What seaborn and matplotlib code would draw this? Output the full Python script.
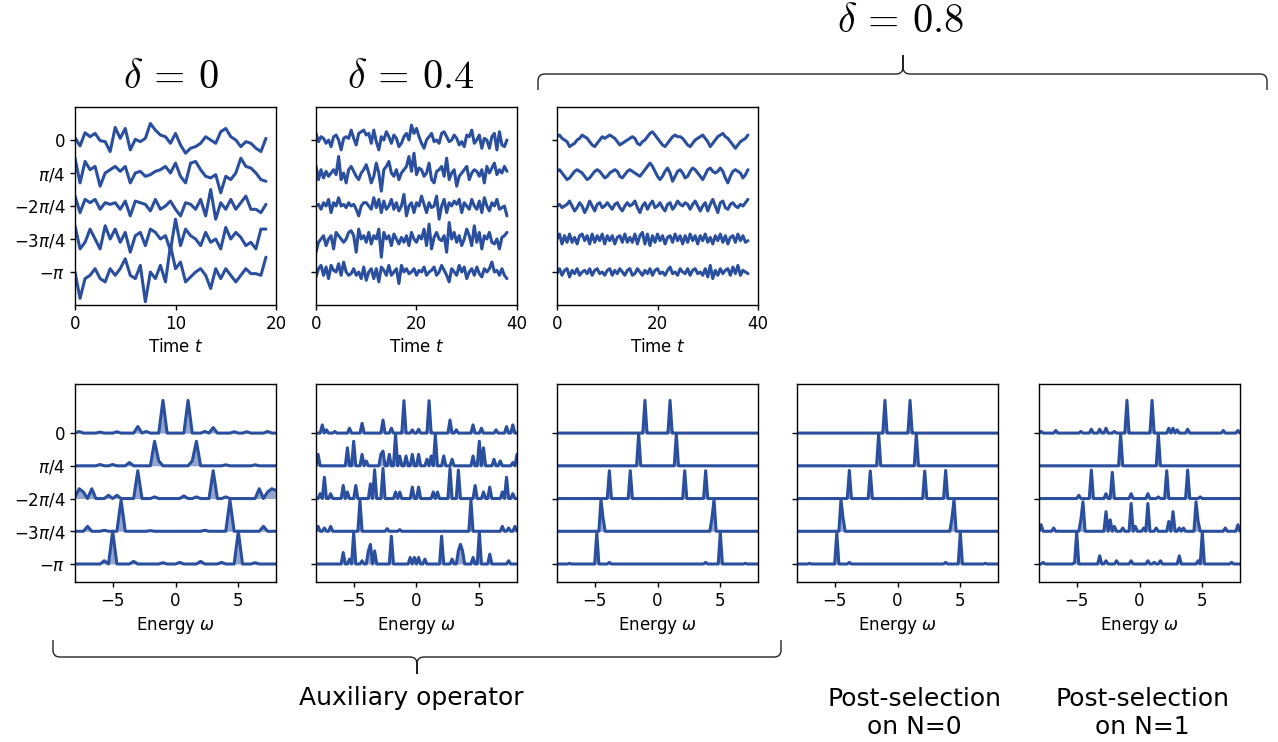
import numpy as np
import matplotlib
matplotlib.use("Agg")
import matplotlib.pyplot as plt
from matplotlib.path import Path
from matplotlib.patches import PathPatch
import seaborn as sns

sns.set_style("ticks")
plt.rcParams['font.family'] = ['DejaVu Sans']
plt.rcParams['mathtext.fontset'] = 'dejavusans'
plt.rcParams['text.color'] = 'black'
plt.rcParams['axes.labelcolor'] = 'black'

LINE = '#2a4f9f'

# ---- time traces (phase vs time), one list per y-offset row ----
T_END = [19, 38, 38]

TIME_D0 = [
    [0.07, -0.18, 0.22, 0.10, 0.20, -0.02, -0.05, -0.35, 0.38, 0.05, 0.35, -0.30, 0.02, -0.05, 0.05, 0.50,
     0.30, 0.15, 0.10, -0.10, 0.20, -0.15, -0.40, -0.25, -0.20, -0.10, 0.10, 0.00, -0.10, 0.25, 0.35, 0.10,
     0.00, -0.20, -0.05, -0.10, -0.25, -0.35, 0.05],
    [0.45, -0.30, 0.35, 0.10, 0.20, -0.40, 0.00, 0.10, 0.20, 0.05, 0.20, -0.30, 0.00, 0.05, -0.10, -0.05,
     0.05, 0.10, 0.20, 0.00, 0.30, -0.10, -0.30, 0.30, 0.35, 0.10, -0.10, -0.15, -0.05, -0.60, -0.10, -0.20,
     0.00, 0.45, 0.20, 0.15, 0.00, -0.20, -0.25],
    [0.30, -0.20, 0.20, 0.10, 0.20, -0.10, 0.10, 0.05, 0.10, -0.10, 0.15, -0.30, 0.15, 0.10, 0.05, -0.15,
     0.20, -0.10, 0.00, 0.15, -0.10, -0.30, 0.10, 0.05, -0.10, 0.20, -0.30, 0.50, -0.40, 0.10, -0.10, 0.20,
     -0.10, 0.10, 0.30, -0.10, -0.10, -0.20, 0.05],
    [0.40, -0.30, -0.10, 0.30, 0.00, -0.30, 0.40, 0.00, 0.30, -0.10, 0.20, -0.40, 0.10, 0.20, -0.20, 0.30,
     0.20, 0.00, 0.10, -0.35, 0.60, -0.20, 0.30, 0.10, 0.00, -0.20, 0.20, -0.10, 0.00, -0.30, 0.35, 0.00,
     0.20, 0.05, -0.20, -0.10, -0.30, 0.30, 0.30],
    [0.00, -0.80, -0.20, -0.10, 0.10, -0.20, -0.30, 0.10, -0.10, 0.10, 0.40, -0.10, -0.20, 0.20, -0.90, 0.00,
     -0.20, 0.20, -0.30, 0.80, 0.10, 0.30, -0.30, -0.15, 0.00, 0.10, -0.10, -0.50, 0.10, -0.20, 0.10, -0.10,
     -0.30, -0.10, 0.10, -0.05, -0.05, -0.10, 0.45],
]

TIME_D04 = [
    [0.20, -0.05, 0.10, 0.05, -0.10, 0.00, -0.20, 0.10, 0.15, 0.00, -0.30, 0.05, 0.10, 0.05, 0.30, 0.05,
     -0.15, 0.20, 0.25, 0.30, 0.15, 0.20, -0.10, 0.30, -0.05, -0.30, 0.10, 0.00, 0.25, 0.10, -0.10, 0.15,
     0.05, -0.20, -0.10, 0.10, 0.20, 0.00, 0.45, 0.20, 0.35, 0.10, -0.10, -0.25, 0.00, 0.10, 0.20, -0.05,
     0.00, -0.10, 0.20, 0.25, 0.10, -0.05, 0.00, 0.15, 0.05, -0.15, -0.05, -0.20, 0.15, 0.10, 0.30, -0.10,
     0.00, 0.15, -0.25, 0.05, 0.00, -0.25, 0.10, 0.20, -0.30, 0.25, -0.15, -0.20, 0.00],
    [0.20, -0.20, 0.10, -0.15, 0.05, -0.10, 0.00, 0.10, -0.05, 0.50, -0.20, 0.00, -0.30, 0.10, 0.20, 0.05,
     -0.10, -0.20, 0.00, 0.10, 0.25, 0.00, -0.30, -0.10, 0.30, 0.00, -0.55, 0.10, 0.20, 0.35, 0.00, -0.10,
     0.10, -0.20, 0.00, 0.10, 0.20, 0.50, 0.05, 0.60, -0.05, 0.15, 0.10, -0.10, 0.00, 0.30, -0.20, -0.30,
     0.05, 0.10, 0.20, -0.10, 0.45, -0.20, 0.00, 0.10, -0.40, -0.10, 0.00, 0.10, 0.20, -0.20, 0.00, 0.10,
     0.05, -0.10, 0.10, -0.30, 0.20, 0.00, 0.15, 0.30, -0.05, 0.10, 0.00, 0.20, 0.05],
    [0.00, 0.05, -0.10, 0.10, 0.00, 0.20, -0.20, 0.10, 0.00, 0.25, 0.00, 0.05, -0.05, 0.10, 0.00, 0.05,
     -0.10, -0.30, 0.00, 0.10, 0.10, 0.00, -0.10, 0.25, -0.05, 0.20, -0.20, 0.15, -0.10, 0.00, 0.20, -0.10,
     0.10, -0.15, 0.00, 0.35, -0.30, 0.00, 0.10, -0.20, 0.10, 0.00, 0.30, 0.05, -0.20, 0.10, -0.05, 0.00,
     0.30, -0.40, 0.00, 0.20, -0.20, 0.10, 0.00, 0.15, 0.05, 0.20, -0.20, 0.10, 0.00, -0.10, 0.20, 0.00,
     -0.10, 0.15, -0.20, 0.25, 0.00, -0.15, 0.10, 0.00, 0.20, -0.10, -0.05, 0.00, -0.30],
    [-0.40, -0.10, 0.00, 0.10, -0.20, 0.00, 0.10, -0.30, 0.20, 0.10, 0.00, -0.10, 0.00, 0.20, 0.25, 0.10,
     -0.40, 0.30, 0.00, 0.10, -0.10, 0.20, -0.15, 0.10, 0.00, 0.30, -0.55, 0.20, 0.00, 0.10, -0.20, 0.15,
     0.00, -0.15, 0.05, -0.10, 0.10, -0.20, 0.20, 0.00, -0.10, 0.10, 0.00, 0.30, -0.20, 0.45, -0.30, 0.05,
     0.20, 0.00, -0.05, 0.10, -0.40, 0.50, 0.00, 0.20, -0.10, 0.10, -0.20, 0.00, 0.30, 0.10, -0.20, 0.40,
     -0.10, 0.20, -0.30, 0.10, 0.00, 0.20, -0.10, -0.15, 0.00, -0.30, 0.05, 0.10, 0.20],
    [-0.15, 0.10, 0.20, -0.10, 0.15, -0.20, 0.20, 0.05, 0.00, 0.25, -0.10, 0.30, 0.00, -0.10, -0.05, 0.10,
     -0.10, 0.00, -0.20, 0.15, -0.25, 0.00, 0.10, -0.20, 0.10, -0.30, 0.15, 0.05, -0.10, 0.20, -0.10, 0.00,
     0.10, -0.35, 0.20, 0.00, 0.10, -0.05, 0.00, 0.10, -0.10, 0.05, 0.00, 0.15, -0.10, 0.00, 0.05, 0.15,
     -0.10, 0.00, 0.20, 0.05, -0.10, -0.30, 0.10, 0.00, -0.10, 0.20, 0.00, 0.15, -0.20, 0.00, 0.10, -0.10,
     0.15, -0.05, -0.15, 0.10, 0.00, 0.10, 0.30, 0.00, 0.05, -0.10, 0.10, -0.10, -0.20],
]

TIME_D08 = [
    [0.10, 0.15, 0.05, 0.00, -0.05, -0.20, -0.15, -0.10, 0.00, 0.05, 0.15, 0.10, 0.05, -0.05, -0.15, -0.20,
     -0.10, 0.00, 0.10, 0.05, 0.10, 0.15, 0.10, 0.05, -0.05, -0.15, -0.10, -0.05, 0.00, 0.05, 0.10, 0.05,
     -0.10, -0.15, -0.05, 0.00, 0.10, 0.20, 0.25, 0.15, 0.05, -0.05, -0.15, -0.20, -0.10, 0.00, 0.10, 0.15,
     0.10, 0.10, 0.05, -0.05, -0.15, -0.20, -0.10, 0.00, 0.05, 0.10, 0.15, 0.05, -0.05, -0.20, -0.10, 0.00,
     0.10, 0.15, 0.20, 0.10, 0.05, -0.05, -0.15, -0.25, -0.15, -0.05, 0.00, 0.05, 0.15],
    [0.05, 0.10, 0.00, -0.10, -0.20, -0.15, -0.05, 0.05, 0.10, 0.05, 0.00, -0.10, -0.20, -0.15, -0.05, 0.05,
     0.10, 0.05, -0.05, -0.15, -0.10, 0.00, 0.05, 0.10, 0.05, -0.10, -0.15, -0.05, 0.05, 0.10, 0.05, 0.00,
     -0.05, -0.10, 0.00, 0.10, 0.20, 0.30, 0.20, 0.05, -0.10, -0.20, -0.10, 0.05, 0.15, 0.00, -0.25, -0.10,
     0.05, 0.10, 0.00, -0.15, -0.10, 0.05, 0.15, 0.10, 0.00, -0.10, -0.20, -0.05, 0.10, 0.15, 0.05, 0.00,
     0.05, 0.15, 0.05, -0.15, -0.30, -0.10, 0.05, 0.10, 0.05, 0.00, -0.15, -0.05, 0.10],
    [0.00, 0.05, -0.05, 0.00, 0.05, 0.15, 0.00, -0.15, -0.05, 0.10, 0.00, -0.20, -0.05, 0.15, 0.00, -0.15,
     0.05, 0.10, -0.05, 0.00, 0.10, 0.00, -0.10, 0.05, 0.10, -0.05, -0.15, 0.00, 0.10, 0.00, 0.05, 0.15,
     -0.05, -0.20, 0.00, 0.10, -0.10, 0.05, 0.15, -0.05, 0.00, 0.10, -0.05, -0.15, 0.05, 0.10, -0.10, 0.00,
     0.15, 0.05, 0.00, 0.10, 0.05, -0.10, 0.05, 0.15, 0.00, -0.15, 0.00, 0.10, -0.15, 0.05, 0.20, 0.00,
     -0.20, 0.10, 0.15, -0.05, -0.10, 0.05, 0.10, 0.00, -0.05, 0.05, 0.00, 0.10, 0.20],
    [0.00, 0.15, -0.15, 0.10, -0.10, 0.15, -0.10, 0.05, -0.15, 0.10, 0.15, -0.05, 0.10, -0.15, 0.15, -0.10,
     0.10, -0.05, 0.15, -0.15, 0.10, -0.05, 0.10, -0.15, 0.05, 0.10, -0.10, 0.15, -0.10, 0.05, -0.10, 0.15,
     -0.15, 0.10, 0.20, -0.15, 0.15, -0.20, 0.10, -0.10, 0.15, -0.05, 0.10, -0.15, 0.05, 0.10, -0.10, 0.15,
     -0.05, 0.10, -0.15, 0.10, -0.10, 0.15, -0.05, 0.10, -0.15, 0.10, -0.05, 0.15, -0.10, 0.05, -0.15, 0.10,
     -0.05, 0.15, -0.10, 0.10, -0.15, 0.05, 0.10, -0.10, 0.15, -0.05, 0.10, -0.10, -0.05],
    [-0.05, 0.10, -0.10, 0.05, 0.10, -0.15, 0.05, -0.05, 0.10, -0.10, 0.00, 0.05, -0.05, 0.10, -0.10, 0.05,
     0.10, -0.05, 0.00, -0.10, 0.05, 0.10, -0.10, 0.05, -0.05, 0.10, 0.00, -0.10, 0.05, 0.10, -0.10, -0.05,
     0.10, 0.00, -0.10, 0.05, -0.05, 0.10, -0.10, 0.05, 0.10, -0.05, 0.00, -0.10, 0.05, 0.15, -0.05, 0.00,
     -0.10, 0.10, 0.00, -0.05, 0.10, -0.10, 0.05, 0.10, -0.05, 0.00, -0.10, 0.10, -0.15, 0.20, -0.20, 0.05,
     -0.10, 0.10, -0.05, 0.05, 0.10, -0.10, 0.15, -0.05, 0.20, -0.10, 0.05, 0.00, -0.05],
]

OMEGA_STEP = [1 / 3, 1 / 6, 1 / 6, 1 / 6, 1 / 6]

SPEC_D0 = [
    [(-1.0, 1.0), (1.0, 1.0), (-3.0, 0.2), (3.0, 0.17), (-7.67, 0.05), (-6.0, 0.03), (-4.67, 0.04),
     (-2.33, 0.05), (2.33, 0.05), (4.67, 0.04), (5.67, 0.04), (7.33, 0.05)],
    [(-1.67, 0.75), (-1.33, 0.15), (1.67, 0.75), (1.33, 0.15), (-3.67, 0.1), (-6.0, 0.04), (-5.0, 0.04),
     (4.0, 0.03), (6.33, 0.03)],
    [(-3.0, 0.85), (3.0, 0.85), (-8.0, 0.05), (-7.67, 0.3), (-7.33, 0.2), (-6.67, 0.3), (-5.33, 0.1),
     (-4.67, 0.1), (-1.67, 0.05), (0.67, 0.08), (1.67, 0.05), (4.0, 0.05), (6.67, 0.3), (7.33, 0.2),
     (7.67, 0.3), (8.0, 0.25)],
    [(-4.33, 0.95), (4.33, 0.95), (-7.0, 0.15), (7.0, 0.15), (-5.67, 0.03), (-2.0, 0.02), (2.33, 0.03)],
    [(-5.0, 1.0), (5.0, 1.0), (-5.67, 0.1), (-3.33, 0.08), (-1.0, 0.04), (0.33, 0.05), (2.0, 0.08),
     (3.67, 0.05), (6.33, 0.04)],
]

SPEC_D04 = [
    [(-1.0, 0.99), (1.0, 0.99), (-7.55, 0.25), (-7.15, 0.1), (-6.5, 0.05), (-5.3, 0.15), (-4.4, 0.3),
     (-2.65, 0.4), (-2.0, 0.15), (-0.4, 0.1), (0.2, 0.12), (2.65, 0.4), (3.2, 0.1), (4.45, 0.25),
     (5.25, 0.15), (6.35, 0.1), (7.15, 0.2), (7.7, 0.25)],
    [(-1.6, 0.97), (1.55, 0.95), (-7.9, 0.35), (-5.55, 0.55), (-4.95, 0.75), (-4.4, 0.35), (-4.0, 0.15),
     (-2.9, 0.35), (-2.65, 0.45), (-2.1, 0.35), (-1.3, 0.3), (-0.8, 0.3), (-0.25, 0.35), (0.25, 0.35),
     (0.8, 0.2), (1.2, 0.3), (2.1, 0.3), (2.9, 0.2), (4.45, 0.3), (5.0, 0.75), (5.35, 0.55), (6.1, 0.2),
     (6.6, 0.15), (7.7, 0.1), (8.0, 0.35)],
    [(-3.4, 0.88), (-2.65, 0.92), (2.6, 0.92), (3.4, 0.87), (-7.7, 0.15), (-7.3, 0.65), (-6.9, 0.15),
     (-5.8, 0.4), (-5.45, 0.2), (-4.75, 0.4), (-3.7, 0.45), (-1.6, 0.2), (-1.3, 0.2), (-0.3, 0.35),
     (0.2, 0.35), (1.3, 0.2), (1.6, 0.2), (4.75, 0.4), (5.4, 0.2), (5.8, 0.35), (6.9, 0.2), (7.2, 0.65),
     (7.7, 0.15)],
    [(-4.45, 0.95), (4.37, 0.95), (-7.8, 0.15), (-7.4, 0.1), (-6.75, 0.15), (-2.4, 0.08), (-1.3, 0.05),
     (6.9, 0.15), (7.35, 0.1), (7.8, 0.15)],
    [(-4.95, 0.97), (-2.0, 0.85), (2.0, 0.85), (4.95, 0.97), (-5.9, 0.35), (-5.3, 0.15), (-4.4, 0.1),
     (-3.8, 0.4), (-3.6, 0.6), (-3.4, 0.4), (-0.5, 0.2), (-0.15, 0.2), (0.25, 0.2), (0.6, 0.15),
     (2.9, 0.15), (3.3, 0.4), (3.45, 0.6), (3.65, 0.4), (4.45, 0.2), (5.85, 0.3), (7.4, 0.1)],
]

SPEC_D08 = [
    [(-1.0, 1.0), (1.0, 1.0)],
    [(-1.5, 0.98), (1.5, 0.98)],
    [(-3.83, 0.85), (-2.17, 0.85), (2.17, 0.85), (3.83, 0.85)],
    [(-4.5, 0.97), (-4.33, 0.4), (4.5, 0.97), (4.33, 0.4)],
    [(-4.83, 0.95), (4.92, 0.95), (-3.83, 0.05), (3.83, 0.05), (-7.0, 0.02), (7.0, 0.02)],
]

SPEC_N0 = [
    [(-1.0, 1.0), (1.0, 1.0)],
    [(-1.5, 0.98), (1.5, 0.98)],
    [(-3.83, 0.86), (-2.17, 0.84), (2.17, 0.84), (3.83, 0.86)],
    [(-4.5, 0.97), (-4.33, 0.4), (4.5, 0.97), (4.33, 0.4)],
    [(-4.83, 0.95), (4.92, 0.95), (-3.83, 0.05), (3.83, 0.05), (-7.0, 0.02), (7.0, 0.02)],
]

SPEC_N1 = [
    [(-1.0, 1.0), (1.0, 1.0), (-7.83, 0.05), (-6.67, 0.08), (-4.67, 0.05), (-3.83, 0.12), (-3.17, 0.12),
     (-2.67, 0.15), (-2.0, 0.05), (2.33, 0.15), (2.67, 0.15), (3.0, 0.1), (3.83, 0.12), (6.67, 0.08),
     (7.83, 0.08)],
    [(-1.5, 0.97), (1.5, 0.97)],
    [(-3.83, 0.87), (-2.17, 0.8), (2.17, 0.85), (3.83, 0.87), (-4.83, 0.1), (-2.67, 0.15), (-0.67, 0.15),
     (0.67, 0.15), (1.5, 0.05), (4.83, 0.05)],
    [(-4.5, 0.9), (-4.67, 0.35), (4.5, 0.9), (4.67, 0.3), (-7.83, 0.2), (-6.83, 0.1), (-2.67, 0.6),
     (-2.33, 0.35), (-2.0, 0.15), (-1.33, 0.1), (-0.67, 0.85), (-0.33, 0.15), (0.33, 0.1), (0.67, 0.85),
     (1.33, 0.1), (2.33, 0.3), (2.67, 0.6), (3.17, 0.1), (3.5, 0.1), (6.83, 0.1), (7.83, 0.2)],
    [(-5.0, 0.97), (5.0, 0.97), (-5.17, 0.05), (-3.17, 0.25), (-2.67, 0.1), (-1.83, 0.1), (-0.67, 0.1),
     (0.67, 0.1), (1.17, 0.05), (1.67, 0.1), (3.17, 0.25), (4.67, 0.1), (-7.67, 0.05), (7.33, 0.05)],
]

YLABELS = [r'$0$', r'$\pi/4$', r'$-2\pi/4$', r'$-3\pi/4$', r'$-\pi$']

# ---- layout (pixels of a 1278x742 canvas) ----
W, H = 1278, 742
fig = plt.figure(figsize=(W / 100, H / 100), dpi=100)
LEFTS = [75, 316, 557, 797, 1039]
AW, AH = 201, 198


def add_ax(x, ytop):
    return fig.add_axes([x / W, 1 - (ytop + AH) / H, AW / W, AH / H])


def style_y(ax, first):
    if first:
        ax.set_yticks([0, -1, -2, -3, -4])
        ax.set_yticklabels(YLABELS, fontsize=12)
    else:
        ax.set_yticks([0, -2, -4])
        ax.set_yticklabels([])
    for s in ax.spines.values():
        s.set_color('black')
        s.set_linewidth(1.0)
    ax.tick_params(colors='black', labelcolor='black', labelsize=12, width=1)


# top row: time traces
for col, (rows, tend) in enumerate(zip([TIME_D0, TIME_D04, TIME_D08], T_END)):
    ax = add_ax(LEFTS[col], 107)
    for k, vals in enumerate(rows):
        t = np.linspace(0, tend, len(vals))
        sns.lineplot(x=t, y=np.array(vals) - k, ax=ax, color=LINE, lw=2.2)
    ax.set_xlim(0, 20 if tend < 20 else 40)
    ax.set_xticks([0, 10, 20] if tend < 20 else [0, 20, 40])
    ax.set_ylim(-5, 1)
    ax.set_xlabel(r'Time $t$', fontsize=12)
    style_y(ax, col == 0)

# bottom row: spectra
for col, (rows, step) in enumerate(zip([SPEC_D0, SPEC_D04, SPEC_D08, SPEC_N0, SPEC_N1], OMEGA_STEP)):
    ax = add_ax(LEFTS[col], 384)
    omega = np.arange(-8, 8 + step / 2, step)
    for k, feats in enumerate(rows):
        y = np.zeros(len(omega))
        for w, h in feats:
            y[np.argmin(np.abs(omega - w))] = h
        ax.fill_between(omega, -k, y - k, color=LINE, alpha=0.5, lw=0)
        sns.lineplot(x=omega, y=y - k, ax=ax, color=LINE, lw=2.2)
    ax.set_xlim(-8, 8)
    ax.set_xticks([-5, 0, 5])
    ax.set_ylim(-4.55, 1.5)
    ax.set_xlabel(r'Energy $\omega$', fontsize=12)
    style_y(ax, col == 0)

# overlay for titles, braces and group labels
ov = fig.add_axes([0, 0, 1, 1], zorder=-1)
ov.set_xlim(0, W)
ov.set_ylim(H, 0)
ov.axis('off')


def brace(x0, x1, xm, y, end_dy, tip_dy, r=7):
    se, st = np.sign(end_dy), np.sign(tip_dy)
    verts = [(x0, y + end_dy), (x0, y + se * r), (x0, y), (x0 + r, y),
             (xm - r, y), (xm, y), (xm, y + st * r), (xm, y + tip_dy),
             (xm, y + st * r), (xm, y), (xm + r, y),
             (x1 - r, y), (x1, y), (x1, y + se * r), (x1, y + end_dy)]
    codes = [Path.MOVETO, Path.LINETO, Path.CURVE3, Path.CURVE3,
             Path.LINETO, Path.CURVE3, Path.CURVE3, Path.LINETO,
             Path.LINETO, Path.CURVE3, Path.CURVE3,
             Path.LINETO, Path.CURVE3, Path.CURVE3, Path.LINETO]
    ov.add_patch(PathPatch(Path(verts, codes), fill=False, lw=1, edgecolor='#222222'))


brace(538, 1267, 903, 74, 16, -19)
brace(53, 781, 417, 657, -17, 17)

ov.text(171, 77, r'$\delta\,=\,0$', fontsize=29, math_fontfamily='cm', ha='center', va='center')
ov.text(411, 77, r'$\delta\,=\,0.4$', fontsize=29, math_fontfamily='cm', ha='center', va='center')
ov.text(900, 21, r'$\delta\,=\,0.8$', fontsize=29, math_fontfamily='cm', ha='center', va='center')

ov.text(411, 698, 'Auxiliary operator', fontsize=18, ha='center', va='center')
ov.text(914, 713, 'Post-selection\non N=0', fontsize=18, ha='center', va='center', multialignment='center')
ov.text(1142, 713, 'Post-selection\non N=1', fontsize=18, ha='center', va='center', multialignment='center')

fig.savefig('out.png', dpi=100)
